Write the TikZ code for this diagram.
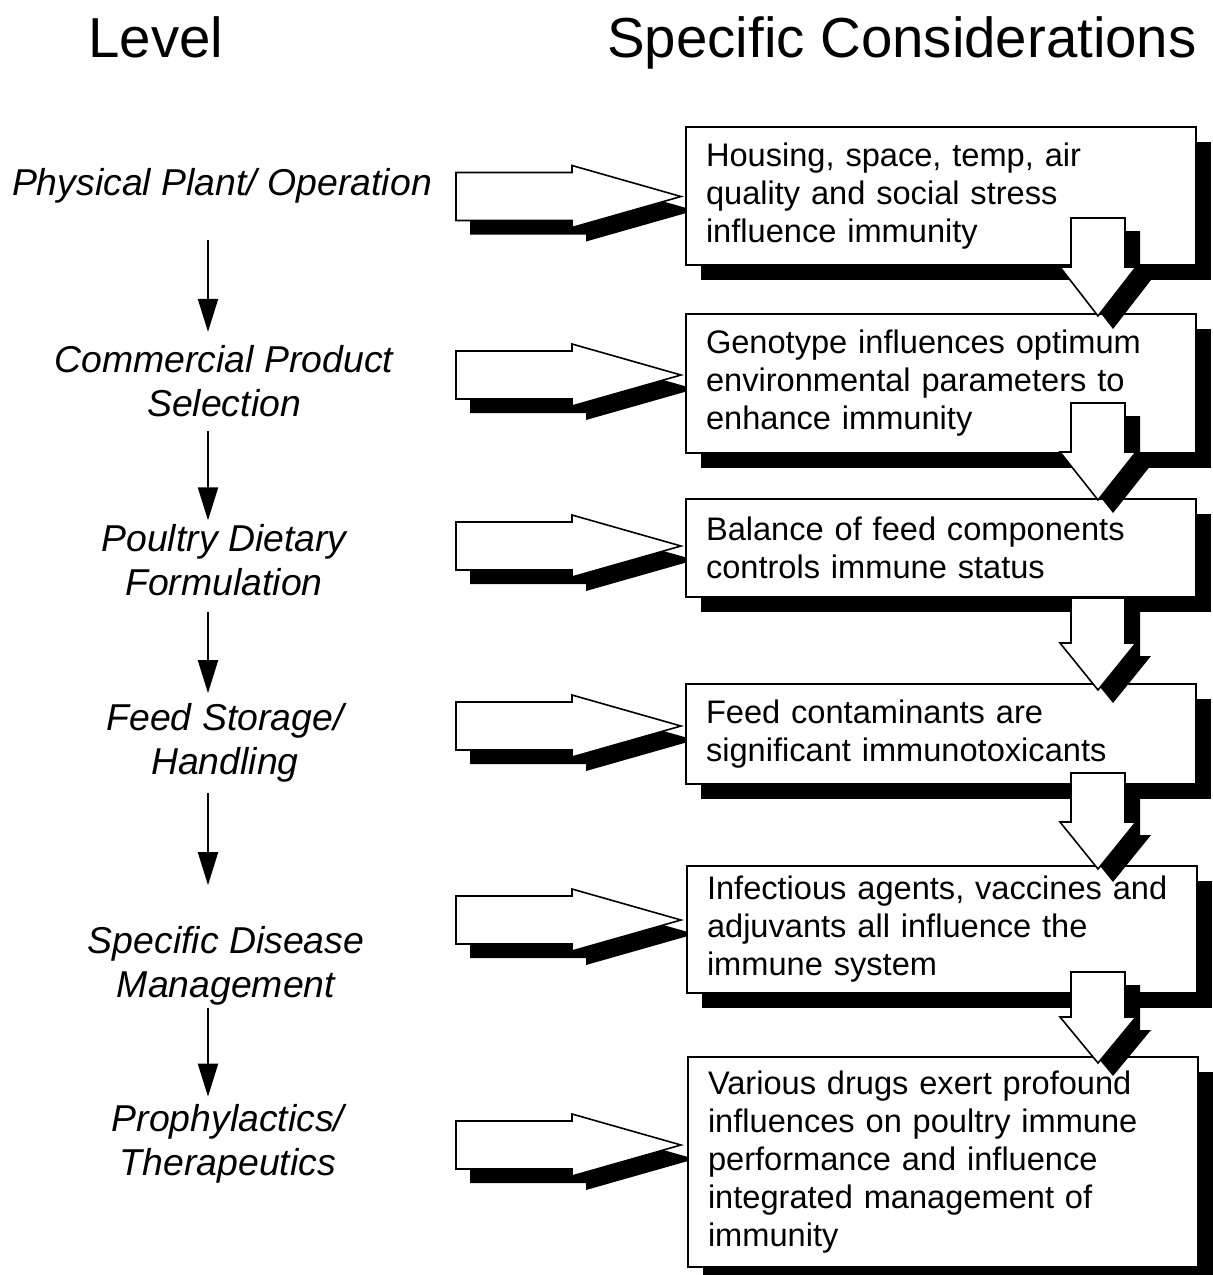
\documentclass[tikz,border=0pt]{standalone}
\usepackage{fontspec}
\setmainfont{Liberation Sans}
\usetikzlibrary{arrows.meta,shadows}
\tikzstyle{levelarrow} = [line width=1pt,-{Triangle[length=16.5pt,width=10pt]}]
\tikzstyle{level} = [font=\fontsize{18.7}{22}\selectfont\itshape, align=center, inner sep=0pt]
\tikzstyle{header} = [font=\fontsize{28.2}{34}\selectfont, inner sep=0pt, anchor=base]
\tikzstyle{conbox} = [draw, line width=1pt, fill=white, text width=235pt, inner xsep=10pt, inner ysep=0pt, align=left, font=\fontsize{16.3}{19}\selectfont, drop shadow={shadow xshift=7.5pt, shadow yshift=-7.5pt, fill=black, opacity=1}]
\tikzstyle{fatarrow} = [draw, line width=0.8pt, fill=white, line join=miter, drop shadow={shadow xshift=7pt, shadow yshift=-7pt, fill=black, opacity=1}]
\tikzstyle{dnarrow} = [draw, line width=0.8pt, fill=white, line join=miter, drop shadow={shadow xshift=7.5pt, shadow yshift=-6.5pt, fill=black, opacity=1}]
% block arrow from a level to its box, #1 = centre line
\newcommand{\rightblock}[1]{\draw[fatarrow] (456,#1-24) -- (572,#1-24) -- (572,#1-31) -- (681,#1) -- (572,#1+31) -- (572,#1+24) -- (456,#1+24) -- cycle;}
% block arrow between boxes, #1 = top, #2 = head base, #3 = tip
\newcommand{\downblock}[3]{\draw[dnarrow] (1071,#1) -- (1125,#1) -- (1125,#2) -- (1136,#2) -- (1098,#3) -- (1060,#2) -- (1071,#2) -- cycle;}

\begin{document}
\begin{tikzpicture}[x=0.5pt,y=-0.5pt]
\useasboundingbox (0,0) rectangle (1212,1275);

% Text Node
\node[header] (hlevel) at (156,57) {Level};
% Text Node
\node[header] (hcons) at (902,57) {Specific Considerations};

% Text Node
\node[level] (l1) at (222,185.5) {Physical Plant/ Operation};
% Text Node
\node[level] (l2) at (224,381) {Commercial Product\\Selection};
% Text Node
\node[level] (l3) at (224,560.5) {Poultry Dietary\\Formulation};
% Text Node
\node[level] (l4) at (225,743) {Feed Storage/\\Handling};
% Text Node
\node[level] (l5) at (226,966) {Specific Disease\\Management};
% Text Node
\node[level] (l6) at (228,1143.5) {Prophylactics/\\Therapeutics};

\coordinate (col) at (208,0);
%Straight Lines
\draw[levelarrow, shorten <=18.5pt, shorten >=6.5pt] (l1.south -| col) -- (l2.north -| col);
%Straight Lines
\draw[levelarrow, shorten <=7pt, shorten >=2pt] (l2.south -| col) -- (l3.north -| col);
%Straight Lines
\draw[levelarrow, shorten <=7.5pt, shorten >=5pt] (l3.south -| col) -- (l4.north -| col);
%Straight Lines
\draw[levelarrow, shorten <=5pt, shorten >=20.5pt] (l4.south -| col) -- (l5.north -| col);
%Straight Lines
\draw[levelarrow, shorten <=1pt, shorten >=3.5pt] (l5.south -| col) -- (l6.north -| col);

%Shape: Right Arrows
\rightblock{196.5}
\rightblock{375}
\rightblock{546}
\rightblock{726}
\rightblock{920}
\rightblock{1145}

%Shape: Boxes
\node[conbox, minimum height=69pt] (c1) at (941,196) {Housing, space, temp, air\\quality and social stress\\influence immunity};
\node[conbox, minimum height=69.5pt] (c2) at (941,383) {Genotype influences optimum\\environmental parameters to\\enhance immunity};
\node[conbox, minimum height=49pt] (c3) at (941,548) {Balance of feed components\\controls immune status};
\node[conbox, minimum height=50pt] (c4) at (941,734) {Feed contaminants are\\significant immunotoxicants};
\node[conbox, minimum height=63.5pt] (c5) at (942,929.5) {Infectious agents, vaccines and\\adjuvants all influence the\\immune system};
\node[conbox, minimum height=105pt] (c6) at (943,1162) {Various drugs exert profound\\influences on poultry immune\\performance and influence\\integrated management of\\immunity};

%Shape: Down Arrows
\downblock{218}{267}{316}
\downblock{403}{452}{500}
\downblock{598}{643}{690}
\downblock{773}{822}{869}
\downblock{972}{1017}{1063}

\end{tikzpicture}
\end{document}
